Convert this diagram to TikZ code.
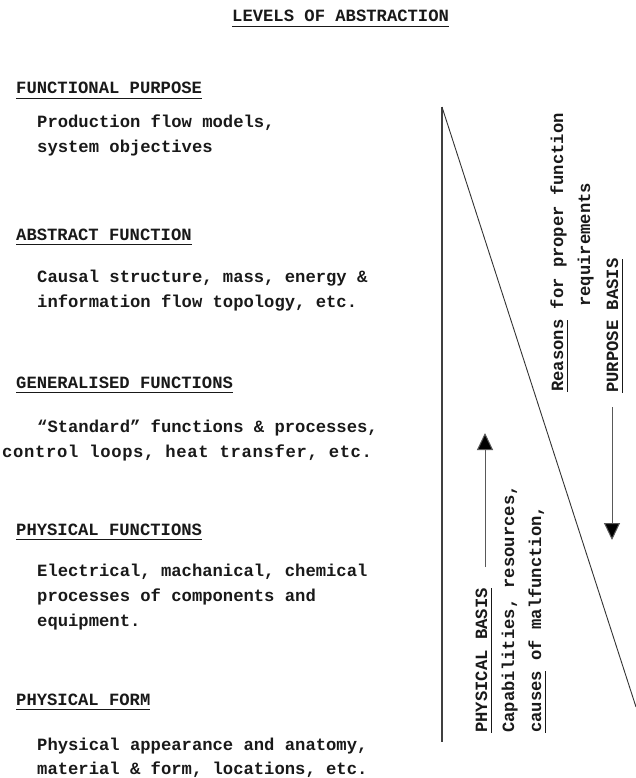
\documentclass[tikz,border=0pt]{standalone}
\usepackage{fontspec}
\newfontfamily\cour{Liberation Mono}
\newfontfamily\courwide{Liberation Mono}[LetterSpace=3.8]
\usetikzlibrary{arrows.meta}
\newcommand\myul[1]{\setbox0\hbox{#1}\rlap{\vrule width\wd0 height -3.6pt depth 4.7pt}\box0\relax}
\tikzset{
  txt/.style={font=\cour\bfseries\fontsize{17.2}{20}\selectfont, inner sep=0pt, anchor=base west, text=black!90},
  widetxt/.style={txt, font=\courwide\bfseries\fontsize{17.2}{20}\selectfont},
  rtxt/.style={txt, rotate=90},
  frame/.style={line width=1.1pt, draw=black!75},
  arr/.style={line width=1pt, draw=black!65, -{Triangle[length=17pt,width=16pt,fill=black]}},
}
\begin{document}
\begin{tikzpicture}[x=1pt,y=-1pt]
\useasboundingbox (0,0) rectangle (636,778);
% title
\node[txt] (title) at (232,22) {\myul{LEVELS OF ABSTRACTION}};
% headings
\node[txt] (h1) at (16,94)  {\myul{FUNCTIONAL PURPOSE}};
\node[txt] (h2) at (16,240) {\myul{ABSTRACT FUNCTION}};
\node[txt] (h3) at (16,388) {\myul{GENERALISED FUNCTIONS}};
\node[txt] (h4) at (16,535) {\myul{PHYSICAL FUNCTIONS}};
\node[txt] (h5) at (16,705) {\myul{PHYSICAL FORM}};
% bodies
\node[txt] (b1a) at (37,128) {Production flow models,};
\node[txt] (b1b) at (37,153) {system objectives};
\node[txt] (b2a) at (37,282) {Causal structure, mass, energy \&};
\node[txt] (b2b) at (37,307) {information flow topology, etc.};
\node[txt] (b3a) at (37,432) {“Standard” functions \& processes,};
\node[widetxt] (b3b) at (2,457)  {control loops, heat transfer, etc.};
\node[txt] (b4a) at (37,576) {Electrical, machanical, chemical};
\node[txt] (b4b) at (37,601) {processes of components and};
\node[txt] (b4c) at (37,626) {equipment.};
\node[txt] (b5a) at (37,750) {Physical appearance and anatomy,};
\node[txt] (b5b) at (37,774) {material \& form, locations, etc.};
% triangle
\coordinate (tTop) at (442,107);
\coordinate (tBot) at (442,742);
\coordinate (tEnd) at (636,707);
\draw[frame] (tTop) -- (tBot);
\draw[line width=0.9pt, draw=black!80] (tTop) -- (tEnd);
% right group
\node[rtxt] (r1) at (563,392) {\myul{Reasons} for proper function};
\node[rtxt] (r2) at (590,307) {requirements};
\node[rtxt] (r3) at (618,393) {\myul{PURPOSE BASIS}};
\coordinate (dA) at (612,407);
\coordinate (dB) at (612,540);
\draw[arr] (dA) -- (dB);
% left group
\node[rtxt] (l1) at (487,733) {\myul{PHYSICAL BASIS}};
\node[rtxt] (l2) at (514,733) {Capabilities, resources,};
\node[rtxt] (l3) at (541,733) {\myul{causes} of malfunction,};
\coordinate (uA) at (485,567);
\coordinate (uB) at (485,433);
\draw[arr] (uA) -- (uB);
\end{tikzpicture}
\end{document}
